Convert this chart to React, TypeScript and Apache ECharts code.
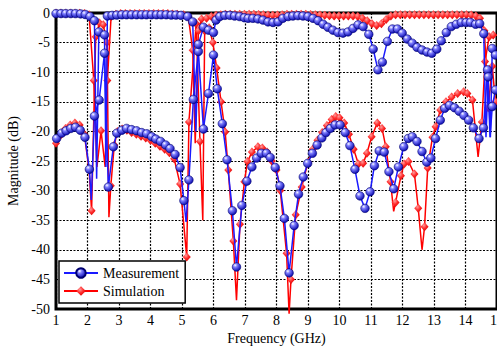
import React, { useEffect, useRef } from 'react';
import * as echarts from 'echarts';

// ---- Data (frequency in GHz, magnitude in dB) ----
// Measurement, upper trace (markers)
const measTopPts: [number, number][] = [
  [1.00,-0.1],[1.16,-0.1],[1.31,-0.1],[1.47,-0.1],[1.62,-0.1],[1.78,-0.15],[1.93,-0.25],[2.08,-0.6],[2.22,-1.3],[2.36,-3.2],
  [2.54,-3.7],[2.63,-0.5],[2.78,-0.4],[2.93,-0.35],[3.09,-0.3],[3.24,-0.3],[3.40,-0.3],[3.56,-0.3],[3.72,-0.3],[3.87,-0.3],
  [4.03,-0.3],[4.19,-0.3],[4.34,-0.3],[4.50,-0.3],[4.66,-0.35],[4.81,-0.35],[4.97,-0.4],[5.18,-0.6],[5.34,-1.5],[5.52,-5.3],
  [5.68,-2.4],[5.84,-2.9],[6.00,-3.3],[6.08,-1.2],[6.20,-0.6],[6.36,-0.4],[6.52,-0.4],[6.67,-0.5],[6.83,-0.6],[6.98,-0.8],
  [7.10,-0.9],[7.25,-0.9],[7.41,-1.0],[7.57,-1.2],[7.73,-1.5],[7.89,-1.6],[8.05,-1.5],[8.20,-0.9],[8.37,-0.6],[8.52,-0.5],
  [8.68,-0.45],[8.84,-0.5],[9.00,-0.6],[9.16,-0.9],[9.32,-1.3],[9.48,-1.9],[9.63,-2.4],[9.79,-2.9],[9.95,-3.3],[10.11,-3.4],
  [10.27,-3.2],[10.43,-2.6],[10.59,-2.0],[10.75,-2.3],[10.93,-3.6],[11.07,-6.1],[11.22,-9.6],[11.36,-8.3],[11.52,-4.8],[11.68,-2.7],
  [11.84,-2.7],[11.99,-3.4],[12.15,-4.4],[12.31,-5.1],[12.46,-5.8],[12.62,-6.25],[12.78,-6.6],[12.93,-6.8],[13.09,-6.1],[13.23,-4.7],
  [13.39,-3.3],[13.55,-2.3],[13.71,-1.9],[13.87,-1.6],[14.02,-1.6],[14.16,-1.6],[14.32,-1.9],[14.45,-1.8],[14.58,-3.5],[14.72,-10.8],
  [14.85,-6.0],[14.95,-7.1],
];
// Measurement, upper trace: narrow notches between markers (line only)
const measTopNotches: [number, number][] = [[2.29,-28],[2.585,-26],[5.44,-20],[14.65,-21],[14.79,-21]];

// Measurement, lower trace (markers)
const measBotPts: [number, number][] = [
  [1.02,-21.2],[1.18,-20.3],[1.32,-19.9],[1.47,-19.5],[1.62,-19.3],[1.77,-19.8],[1.92,-21.0],[2.06,-26.4],[2.22,-17.4],[2.37,-14.7],
  [2.54,-6.8],[2.66,-29.4],[2.82,-22.6],[2.93,-20.3],[3.09,-19.8],[3.24,-19.5],[3.40,-19.7],[3.56,-19.9],[3.72,-20.2],[3.88,-20.4],
  [4.04,-20.9],[4.17,-21.3],[4.32,-21.7],[4.48,-22.3],[4.62,-22.9],[4.78,-23.9],[4.94,-26.1],[5.06,-31.7],[5.22,-28.2],[5.36,-14.6],
  [5.52,-6.5],[5.68,-19.6],[5.84,-13.6],[6.00,-7.1],[6.12,-12.8],[6.28,-18.7],[6.43,-24.8],[6.60,-33.4],[6.73,-42.9],[6.90,-32.5],
  [7.06,-28.4],[7.22,-26.0],[7.37,-24.5],[7.52,-23.7],[7.68,-23.7],[7.80,-24.4],[7.96,-26.1],[8.11,-29.2],[8.25,-34.7],[8.40,-43.9],
  [8.56,-35.9],[8.70,-30.6],[8.85,-27.7],[8.99,-25.4],[9.14,-23.7],[9.29,-22.3],[9.44,-21.1],[9.57,-20.2],[9.71,-19.5],[9.86,-18.9],
  [10.02,-18.9],[10.18,-20.2],[10.33,-22.4],[10.49,-26.4],[10.65,-30.9],[10.81,-33.0],[10.97,-30.2],[11.11,-25.8],[11.26,-23.3],[11.42,-23.5],
  [11.57,-26.8],[11.72,-29.7],[11.87,-26.0],[12.04,-22.6],[12.18,-21.2],[12.31,-20.9],[12.46,-21.7],[12.62,-23.4],[12.77,-25.2],[12.90,-24.5],
  [13.05,-21.2],[13.20,-18.1],[13.34,-16.1],[13.49,-15.6],[13.65,-16.0],[13.80,-16.6],[13.95,-17.3],[14.10,-18.1],[14.25,-19.4],[14.43,-21.2],
  [14.57,-19.4],[14.70,-9.6],[14.85,-15.8],[14.95,-13.0],
];
const measBotNotches: [number, number][] = [[2.12,-31.6],[5.13,-35.3],[14.78,-21]];

// Simulation, upper trace (markers)
const simTopPts: [number, number][] = [
  [1.00,-0.05],[1.15,-0.05],[1.30,-0.05],[1.45,-0.05],[1.60,-0.05],[1.75,-0.05],[1.90,-0.1],[2.05,-0.3],[2.20,-11.4],[2.43,-19.9],
  [2.63,-11.4],[2.75,-0.6],[2.90,-0.2],[3.05,-0.1],[3.20,-0.1],[3.35,-0.1],[3.50,-0.1],[3.65,-0.1],[3.80,-0.1],[3.95,-0.1],
  [4.10,-0.1],[4.25,-0.1],[4.40,-0.1],[4.55,-0.1],[4.70,-0.15],[4.85,-0.2],[5.05,-0.3],[5.20,-0.6],[5.34,-6.3],[5.52,-3.0],
  [5.62,-1.0],[5.78,-0.9],[5.93,-0.6],[6.08,-0.4],[6.23,-0.3],[6.38,-0.2],[6.53,-0.2],[6.68,-0.2],[6.83,-0.2],[6.98,-0.2],
  [7.13,-0.2],[7.28,-0.2],[7.43,-0.25],[7.58,-0.3],[7.73,-0.35],[7.88,-0.4],[8.03,-0.35],[8.18,-0.3],[8.33,-0.2],[8.48,-0.2],
  [8.63,-0.2],[8.78,-0.2],[8.93,-0.2],[9.08,-0.25],[9.23,-0.3],[9.38,-0.35],[9.53,-0.4],[9.68,-0.45],[9.83,-0.5],[9.98,-0.5],
  [10.13,-0.5],[10.28,-0.5],[10.43,-0.5],[10.58,-0.6],[10.73,-0.9],[10.88,-1.3],[11.03,-1.8],[11.18,-2.1],[11.33,-1.8],[11.48,-1.1],
  [11.63,-0.5],[11.78,-0.3],[11.93,-0.3],[12.08,-0.3],[12.23,-0.3],[12.38,-0.3],[12.53,-0.3],[12.68,-0.3],[12.83,-0.3],[12.98,-0.3],
  [13.13,-0.3],[13.28,-0.3],[13.43,-0.3],[13.58,-0.3],[13.73,-0.3],[13.88,-0.3],[14.03,-0.3],[14.18,-0.35],[14.33,-0.5],[14.46,-0.9],
  [14.60,-3.0],[14.72,-16.0],[14.85,-9.0],[14.95,-15.0],
];
const simTopNotches: [number, number][] = [[2.30,-26],[2.56,-26],[5.42,-22]];

// Simulation, lower trace (markers)
const simBotPts: [number, number][] = [
  [1.00,-22.0],[1.15,-20.6],[1.30,-19.5],[1.45,-18.9],[1.60,-18.6],[1.75,-18.9],[1.90,-20.5],[2.05,-26.5],[2.13,-33.4],[2.26,-4.0],
  [2.38,-1.7],[2.50,-2.0],[2.62,-5.0],[2.74,-29.2],[2.85,-22.3],[2.95,-20.0],[3.10,-19.6],[3.25,-19.8],[3.40,-20.2],[3.55,-20.5],
  [3.70,-20.8],[3.85,-21.1],[4.00,-21.5],[4.15,-22.0],[4.30,-22.5],[4.45,-23.0],[4.60,-23.6],[4.75,-24.6],[4.94,-28.9],[5.15,-41.2],
  [5.22,-18.4],[5.45,-1.8],[5.57,-21.7],[5.72,-3.0],[5.86,-2.5],[5.98,-5.0],[6.10,-9.3],[6.24,-15.0],[6.37,-20.1],[6.47,-26.5],
  [6.63,-38.5],[6.84,-35.7],[6.98,-28.5],[7.08,-25.1],[7.22,-23.5],[7.41,-22.6],[7.55,-22.8],[7.70,-23.5],[7.85,-25.0],[8.00,-26.5],
  [8.12,-30.0],[8.32,-40.6],[8.46,-45.0],[8.61,-34.1],[8.80,-29.4],[9.00,-25.2],[9.15,-23.0],[9.30,-21.5],[9.45,-20.2],[9.60,-19.0],
  [9.75,-18.0],[9.88,-17.5],[10.00,-17.7],[10.15,-18.6],[10.30,-20.5],[10.45,-23.0],[10.60,-25.5],[10.75,-25.4],[10.87,-23.7],[11.02,-20.9],
  [11.20,-18.6],[11.35,-19.5],[11.47,-22.6],[11.62,-28.5],[11.78,-32.0],[11.95,-27.5],[12.05,-25.5],[12.19,-25.1],[12.38,-27.2],[12.50,-33.0],
  [12.70,-36.1],[12.80,-26.2],[12.95,-21.0],[13.05,-19.2],[13.20,-16.4],[13.38,-15.0],[13.56,-14.2],[13.75,-13.6],[13.94,-13.3],[14.06,-13.6],
  [14.22,-14.7],[14.52,-18.4],[14.62,-8.2],[14.75,-4.0],[14.88,-3.7],
];
const simBotNotches: [number, number][] = [[2.68,-34.5],[5.66,-35],[6.73,-48.5],[8.40,-50.8],[11.72,-33.5],[12.62,-40],[14.40,-24.3]];

const xRange = [1, 15];
const yRange = [-50, 0];
const legendNames = ['Measurement', 'Simulation'];

const FONT = '"Liberation Serif", "DejaVu Serif", serif';

function buildData(pts: [number, number][], notches: [number, number][]) {
  const all: any[] = [
    ...pts.map((p) => ({ value: p })),
    ...notches.map((p) => ({ value: p, symbol: 'none' })),
  ];
  all.sort((a, b) => a.value[0] - b.value[0]);
  return all;
}

export default function App() {
  const ref = useRef<HTMLDivElement>(null);
  useEffect(() => {
    if (!ref.current) return;
    const chart = echarts.init(ref.current, undefined, { renderer: 'svg' });
    const blueFill = {
      type: 'radial', x: 0.35, y: 0.3, r: 0.75,
      colorStops: [
        { offset: 0, color: '#ffffff' },
        { offset: 0.3, color: '#8080ff' },
        { offset: 1, color: '#0000a8' },
      ],
    };
    const redFill = {
      type: 'radial', x: 0.4, y: 0.35, r: 0.7,
      colorStops: [
        { offset: 0, color: '#ff9a9a' },
        { offset: 0.5, color: '#ff2a2a' },
        { offset: 1, color: '#d80000' },
      ],
    };
    const measStyle = {
      type: 'line',
      name: 'Measurement',
      symbol: 'circle',
      symbolSize: 8.5,
      showAllSymbol: true,
      lineStyle: { color: '#1a1aff', width: 1.5 },
      itemStyle: { color: blueFill, borderColor: '#000070', borderWidth: 0.6 },
      z: 4,
      clip: false,
    };
    const simStyle = {
      type: 'line',
      name: 'Simulation',
      symbol: 'diamond',
      symbolSize: [8, 9],
      showAllSymbol: true,
      lineStyle: { color: '#ff0000', width: 1.5 },
      itemStyle: { color: redFill, borderWidth: 0 },
      z: 3,
      clip: false,
    };
    const option: any = {
      animation: false,
      backgroundColor: '#ffffff',
      grid: {
        left: 56, top: 13, right: 0, bottom: 37,
        containLabel: false,
        outerBoundsMode: 'none',
        show: true, borderColor: '#000', borderWidth: 3, backgroundColor: 'transparent',
      },
      legend: {
        data: legendNames,
        orient: 'vertical',
        left: 59,
        top: 261,
        padding: [5, 6, 5, 4],
        itemGap: 4,
        itemWidth: 34,
        itemHeight: 12,
        backgroundColor: '#ffffff',
        borderColor: '#000',
        borderWidth: 1.5,
        borderRadius: 0,
        textStyle: { fontFamily: FONT, fontSize: 14, color: '#000' },
      },
      xAxis: {
        type: 'value',
        min: xRange[0], max: xRange[1], interval: 1,
        name: 'Frequency (GHz)',
        nameLocation: 'middle',
        nameGap: 20,
        nameTextStyle: { fontFamily: FONT, fontSize: 14, color: '#000' },
        axisLine: { show: false },
        axisTick: { show: false },
        axisLabel: { fontFamily: FONT, fontSize: 14, color: '#000', margin: 4, showMaxLabel: true, showMinLabel: true },
        splitLine: { show: true, lineStyle: { color: '#000', type: [2, 1.5], width: 1.2 } },
      },
      yAxis: {
        type: 'value',
        min: yRange[0], max: yRange[1], interval: 5,
        name: 'Magnitude (dB)',
        nameLocation: 'middle',
        nameRotate: 90,
        nameGap: 33,
        nameTextStyle: { fontFamily: FONT, fontSize: 14, color: '#000' },
        axisLine: { show: false },
        axisTick: { show: false },
        axisLabel: { fontFamily: FONT, fontSize: 14, color: '#000', margin: 6 },
        splitLine: { show: true, lineStyle: { color: '#000', type: [2, 1.5], width: 1.2 } },
      },
      series: [
        { ...simStyle, data: buildData(simBotPts, simBotNotches) },
        { ...simStyle, data: buildData(simTopPts, simTopNotches) },
        { ...measStyle, data: buildData(measBotPts, measBotNotches) },
        { ...measStyle, data: buildData(measTopPts, measTopNotches) },
      ],
    };
    chart.setOption(option);
    return () => chart.dispose();
  }, []);
  return (
    <div
      ref={ref}
      style={{ position: 'absolute', left: 0, top: 0, width: 497, height: 346, background: '#fff' }}
    />
  );
}
